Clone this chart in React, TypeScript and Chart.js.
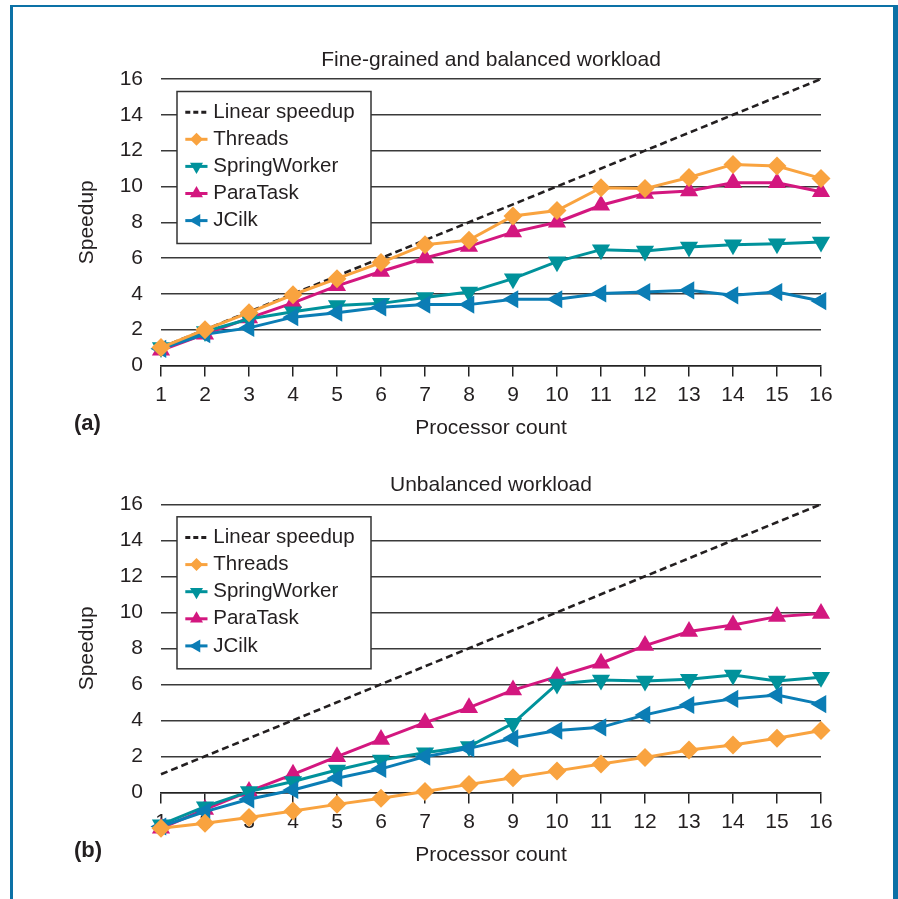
import { useEffect, useRef } from 'react';
import { Chart, registerables } from 'chart.js';

Chart.register(...registerables);

// ---------- data ----------
const processors = [1, 2, 3, 4, 5, 6, 7, 8, 9, 10, 11, 12, 13, 14, 15, 16];
const linearSpeedup = [1, 2, 3, 4, 5, 6, 7, 8, 9, 10, 11, 12, 13, 14, 15, 16];

// (a) Fine-grained and balanced workload
const threadsA = [1.0, 2.0, 2.95, 3.95, 4.85, 5.75, 6.75, 7.0, 8.35, 8.65, 9.93, 9.88, 10.5, 11.23, 11.14, 10.45];
const springWorkerA = [1.0, 1.9, 2.6, 3.0, 3.35, 3.47, 3.8, 4.1, 4.85, 5.8, 6.47, 6.4, 6.62, 6.75, 6.8, 6.9];
const paraTaskA = [0.85, 1.75, 2.65, 3.5, 4.45, 5.25, 6.0, 6.65, 7.45, 8.0, 8.95, 9.6, 9.75, 10.2, 10.2, 9.7];
const jCilkA = [0.93, 1.75, 2.1, 2.7, 2.95, 3.25, 3.4, 3.4, 3.7, 3.7, 4.02, 4.1, 4.2, 3.92, 4.1, 3.6];

// (b) Unbalanced workload
const threadsB = [-2.0, -1.72, -1.4, -1.04, -0.67, -0.33, 0.04, 0.44, 0.81, 1.19, 1.57, 1.94, 2.35, 2.63, 3.0, 3.43];
const springWorkerB = [-1.8, -0.8, 0.04, 0.6, 1.24, 1.8, 2.2, 2.54, 3.83, 6.02, 6.24, 6.19, 6.28, 6.52, 6.19, 6.39];
const paraTaskB = [-2.0, -0.95, 0.05, 1.0, 1.98, 2.94, 3.87, 4.7, 5.68, 6.43, 7.17, 8.15, 8.93, 9.3, 9.76, 9.94];
const jCilkB = [-1.9, -1.07, -0.39, 0.13, 0.78, 1.3, 1.98, 2.44, 3.0, 3.43, 3.61, 4.3, 4.85, 5.19, 5.4, 4.9];

const yTickValues = [0, 2, 4, 6, 8, 10, 12, 14, 16];
const seriesLabels = ['Linear speedup', 'Threads', 'SpringWorker', 'ParaTask', 'JCilk'];
const seriesColors = ['#231f20', '#f9a33f', '#00929b', '#d3177f', '#0b7db5'];

// ---------- styles ----------
const FONT = '"Liberation Sans", Arial, sans-serif';
const TEXT = '#231f20';
const GRID = '#3a3a3a';
const FRAME = '#0c71a6';

type Style = { pointStyle: string | false; rotation: number; radius: number; legendRadius: number; order: number };
const seriesStyles: Style[] = [
  { pointStyle: false, rotation: 0, radius: 0, legendRadius: 0, order: 5 },
  { pointStyle: 'rectRot', rotation: 0, radius: 9.5, legendRadius: 6.5, order: 0 },
  { pointStyle: 'triangle', rotation: 180, radius: 10.5, legendRadius: 7.5, order: 2 },
  { pointStyle: 'triangle', rotation: 0, radius: 10.5, legendRadius: 7.5, order: 3 },
  { pointStyle: 'triangle', rotation: -90, radius: 10.5, legendRadius: 7.5, order: 1 },
];

function drawMarker(ctx: CanvasRenderingContext2D, style: string, rotationDeg: number, r: number, x: number, y: number, color: string) {
  ctx.beginPath();
  if (style === 'rectRot') {
    ctx.moveTo(x, y - r);
    ctx.lineTo(x + r, y);
    ctx.lineTo(x, y + r);
    ctx.lineTo(x - r, y);
  } else {
    let rad = (rotationDeg * Math.PI) / 180;
    for (let k = 0; k < 3; k++) {
      const px = x + Math.sin(rad) * r;
      const py = y - Math.cos(rad) * r;
      if (k === 0) ctx.moveTo(px, py);
      else ctx.lineTo(px, py);
      rad += (2 * Math.PI) / 3;
    }
  }
  ctx.closePath();
  ctx.fillStyle = color;
  ctx.fill();
}

const boxLegend = {
  id: 'boxLegend',
  beforeDatasetsDraw(chart: any) {
    const { ctx, chartArea } = chart;
    const left = chartArea.left + 16;
    const top = chartArea.top + 12.5;
    const w = 194;
    const h = 152;
    ctx.save();
    ctx.fillStyle = '#ffffff';
    ctx.fillRect(left, top, w, h);
    ctx.strokeStyle = '#333333';
    ctx.lineWidth = 1.5;
    ctx.strokeRect(left, top, w, h);
    seriesLabels.forEach((label, i) => {
      const cy = top + 20.7 + 27.1 * i;
      const st = seriesStyles[i];
      ctx.strokeStyle = seriesColors[i];
      ctx.lineWidth = 3;
      ctx.setLineDash(i === 0 ? [5, 3] : []);
      ctx.beginPath();
      ctx.moveTo(left + 8.3, cy);
      ctx.lineTo(left + 30.5, cy);
      ctx.stroke();
      ctx.setLineDash([]);
      if (st.pointStyle) drawMarker(ctx, st.pointStyle, st.rotation, st.legendRadius, left + 19.5, cy, seriesColors[i]);
      ctx.fillStyle = TEXT;
      ctx.font = `20.5px ${FONT}`;
      ctx.textAlign = 'left';
      ctx.textBaseline = 'middle';
      ctx.fillText(label, left + 36.3, cy);
    });
    ctx.restore();
  },
};

function makeTextPlugin(panel: string, panelY: number) {
  return {
    id: 'panelText',
    afterDraw(chart: any) {
      const { ctx } = chart;
      const ys = chart.scales.y;
      const cy = (ys.getPixelForValue(0) + ys.getPixelForValue(16)) / 2;
      ctx.save();
      ctx.fillStyle = TEXT;
      ctx.font = `21px ${FONT}`;
      ctx.textAlign = 'center';
      ctx.textBaseline = 'middle';
      ctx.translate(87, cy);
      ctx.rotate(-Math.PI / 2);
      ctx.fillText('Speedup', 0, 0);
      ctx.restore();
      ctx.save();
      ctx.fillStyle = TEXT;
      ctx.font = `bold 22px ${FONT}`;
      ctx.textAlign = 'left';
      ctx.textBaseline = 'middle';
      ctx.fillText(panel, 74, panelY);
      ctx.restore();
    },
  };
}

function makeConfig(title: string, series: number[][], yMin: number, pad: { top: number; bottom: number; layoutBottom: number }, panel: string, panelY: number): any {
  const datasets = series.map((vals, i) => {
    const st = seriesStyles[i];
    const color = seriesColors[i];
    return {
      label: seriesLabels[i],
      data: processors.map((p, k) => ({ x: p, y: vals[k] })),
      borderColor: color,
      backgroundColor: color,
      borderWidth: i === 0 ? 2.6 : 3,
      borderDash: i === 0 ? [7, 4] : [],
      pointStyle: st.pointStyle,
      pointRotation: st.rotation,
      pointRadius: st.radius,
      pointHoverRadius: st.radius,
      pointBorderWidth: 0,
      pointBackgroundColor: color,
      tension: 0,
      clip: false,
      order: st.order,
    };
  });
  return {
    type: 'line',
    data: { datasets },
    options: {
      animation: false,
      responsive: false,
      events: [],
      layout: { padding: { left: 0, right: 77, top: 0, bottom: pad.layoutBottom } },
      plugins: {
        legend: { display: false },
        tooltip: { enabled: false },
        title: {
          display: true,
          text: title,
          color: TEXT,
          fullSize: false,
          font: { family: FONT, size: 21, weight: 'normal' },
          padding: { top: pad.top, bottom: pad.bottom },
        },
      },
      scales: {
        x: {
          type: 'linear',
          min: 1,
          max: 16,
          position: { y: 0 },
          ticks: { stepSize: 1, autoSkip: false, maxRotation: 0, padding: 7, color: TEXT, font: { family: FONT, size: 21 } },
          grid: { display: true, drawOnChartArea: false, drawTicks: true, tickLength: 10, color: '#222', lineWidth: 1.5 },
          border: { display: true, color: '#222', width: 1.5 },
          title: { display: true, text: 'Processor count', color: TEXT, font: { family: FONT, size: 21 }, padding: { top: 1, bottom: 0 } },
        },
        y: {
          type: 'linear',
          min: yMin,
          max: 16,
          position: 'left',
          afterFit: (s: any) => {
            s.width = 161;
          },
          afterBuildTicks: (s: any) => {
            s.ticks = yTickValues.map((v) => ({ value: v }));
          },
          ticks: { padding: 18, color: TEXT, font: { family: FONT, size: 21 } },
          grid: { drawTicks: false, color: GRID, lineWidth: 1.5 },
          border: { display: false },
        },
      },
    },
    plugins: [boxLegend, makeTextPlugin(panel, panelY)],
  };
}

export default function App() {
  const topRef = useRef<HTMLCanvasElement>(null);
  const botRef = useRef<HTMLCanvasElement>(null);

  useEffect(() => {
    const a = new Chart(
      topRef.current as HTMLCanvasElement,
      makeConfig('Fine-grained and balanced workload', [linearSpeedup, threadsA, springWorkerA, paraTaskA, jCilkA], 0, { top: 47.4, bottom: 6.4, layoutBottom: 84.5 }, '(a)', 424)
    );
    const b = new Chart(
      botRef.current as HTMLCanvasElement,
      makeConfig('Unbalanced workload', [linearSpeedup, threadsB, springWorkerB, paraTaskB, jCilkB], -2.2, { top: 22.4, bottom: 6.7, layoutBottom: 67.1 }, '(b)', 401)
    );
    return () => {
      a.destroy();
      b.destroy();
    };
  }, []);

  return (
    <div style={{ position: 'fixed', left: 0, top: 0, width: 898, height: 899, background: '#fff', overflow: 'hidden' }}>
      <canvas ref={topRef} width={898} height={450} style={{ position: 'absolute', left: 0, top: 0, width: 898, height: 450 }} />
      <canvas ref={botRef} width={898} height={449} style={{ position: 'absolute', left: 0, top: 450, width: 898, height: 449 }} />
      <div
        style={{
          position: 'absolute',
          left: 10,
          top: 5,
          width: 888,
          height: 940,
          boxSizing: 'border-box',
          borderLeft: `3px solid ${FRAME}`,
          borderTop: `2px solid ${FRAME}`,
          borderRight: `5px solid ${FRAME}`,
          pointerEvents: 'none',
        }}
      />
    </div>
  );
}
